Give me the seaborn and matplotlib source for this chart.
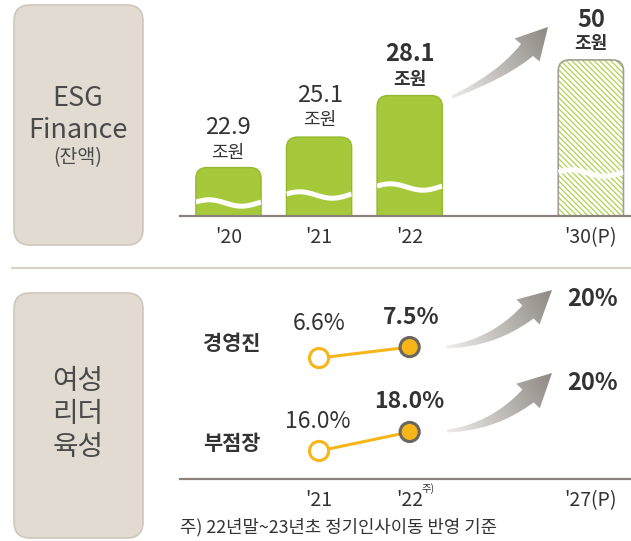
import numpy as np
import pandas as pd
import matplotlib
matplotlib.use("Agg")
import matplotlib.pyplot as plt
import seaborn as sns
from matplotlib.patches import FancyBboxPatch, Polygon, Rectangle
from matplotlib.colors import LinearSegmentedColormap

# ESG Finance 잔액 (조원)
fin_order = ["'20", "'21", "'22", " ", "'30(P)"]
fin_years = ["'20", "'21", "'22"]
fin_values = [22.9, 25.1, 28.1]
fin_target_year = ["'30(P)"]
fin_target = [50]

# 여성 리더 비율 (%)
lead_order = [" ", "'21", "'22", "  ", "'27(P)"]
lead_years = ["'21", "'22"]
exec_values = [6.6, 7.5]      # 경영진
branch_values = [16.0, 18.0]  # 부점장
lead_target_year = "'27(P)"
lead_target = [20, 20]

GREEN = "#a5c93a"
HATCH_GREEN = "#b5d55e"
ORANGE = "#f6b519"
BASE = "#8b8279"
BOX_FILL = "#e1dbd1"
BOX_EDGE = "#d0c7bb"
TXT = "#333333"

sns.set_theme(style="white")
plt.rcParams["font.family"] = ["Noto Sans CJK KR", "DejaVu Sans"]
plt.rcParams["hatch.linewidth"] = 1.0

W, H = 631, 541
fig = plt.figure(figsize=(W / 100, H / 100), dpi=100)


def px_axes(x0, y0, x1, y1):
    ax = fig.add_axes([x0 / W, 1 - y1 / H, (x1 - x0) / W, (y1 - y0) / H])
    ax.patch.set_alpha(0)
    return ax


# canvas in pixel coords for boxes, arrows and texts
canvas = px_axes(0, 0, W, H)
canvas.set_zorder(0)
canvas.axis("off")

XL = (-0.535, 4.443)

# ---- top: ESG Finance bars
ax_top = px_axes(180, 0, W, 216)
ax_top.set_zorder(2)
df_fin = pd.DataFrame({"year": fin_years, "value": fin_values})
sns.barplot(data=df_fin, x="year", y="value", order=fin_order, color=GREEN,
            width=0.72, ax=ax_top)
ax_top.set_ylim(19.4, 35.0)
ax_tw = ax_top.twinx()
ax_tw.patch.set_alpha(0)
df_tgt = pd.DataFrame({"year": fin_target_year, "value": fin_target})
sns.barplot(data=df_tgt, x="year", y="value", order=fin_order, color=GREEN,
            width=0.72, ax=ax_tw)
ax_tw.set_ylim(0, 69.2)
for a in (ax_top, ax_tw):
    a.set_xlim(*XL)
    a.set_yticks([])
    a.set_ylabel("")
    a.set_xlabel("")
    for s in ("top", "left", "right"):
        a.spines[s].set_visible(False)
ax_tw.spines["bottom"].set_visible(False)
ax_tw.tick_params(bottom=False, labelbottom=False)
ax_top.spines["bottom"].set_color(BASE)
ax_top.spines["bottom"].set_linewidth(1.6)
ax_top.set_xticks([0, 1, 2, 4])
ax_top.set_xticklabels([fin_order[i] for i in (0, 1, 2, 4)])
ax_top.tick_params(axis="x", length=0, pad=8, labelsize=14, labelcolor=TXT)

clip_top = Rectangle((0, 0), W, 215.5, transform=canvas.transData)
wave_off = [13, 21, 29, 43]
bars = [p for p in ax_top.patches if p.get_height() > 0] + \
       [p for p in ax_tw.patches if p.get_height() > 0]
for i, p in enumerate(bars):
    bb = p.get_window_extent()
    p.set_visible(False)
    x0, x1, top = bb.x0, bb.x1, H - bb.y1
    hatched = i == 3
    rect = FancyBboxPatch((x0, top), x1 - x0, 216 + 20 - top,
                          boxstyle="round,pad=0,rounding_size=11",
                          facecolor="white" if hatched else GREEN,
                          edgecolor=HATCH_GREEN if hatched else "#94b82e",
                          hatch="\\\\\\\\\\\\" if hatched else None,
                          lw=0 if hatched else 1.0, zorder=2)
    canvas.add_patch(rect)
    rect.set_clip_path(clip_top)
    if hatched:
        outline = FancyBboxPatch((x0, top), x1 - x0, 216 + 20 - top,
                                 boxstyle="round,pad=0,rounding_size=11",
                                 facecolor="none", edgecolor="#a39d92", lw=1.2, zorder=3)
        canvas.add_patch(outline)
        outline.set_clip_path(clip_top)
    t = np.linspace(0, 1, 80)
    xs = x0 + t * (x1 - x0)
    ys = 216 - wave_off[i] - 3.2 * np.sin(2 * np.pi * t + 0.3)
    ln, = canvas.plot(xs, ys, color="white", lw=3.6, zorder=4, solid_capstyle="butt")
    ln.set_clip_path(rect)

# value labels
lab_y = [(128, 153), (95, 120), (54, 79), (20, 43)]
centers = [228, 320, 410, 591]
for i, (v, (y1, y2)) in enumerate(zip(fin_values + fin_target, lab_y)):
    bold = i >= 2
    txt = f"{v:.1f}" if i < 3 else f"{v:d}"
    canvas.text(centers[i], y1, txt, ha="center", va="center", color=TXT,
                fontsize=17, fontweight="bold" if bold else "normal")
    canvas.text(centers[i], y2, "조원", ha="center", va="center", color=TXT,
                fontsize=13, fontweight="bold" if bold else "normal")

# ---- bottom: women leaders
ax_a = px_axes(180, 290, W, 390)
ax_b = px_axes(180, 395, W, 479)
for a in (ax_a, ax_b):
    a.set_zorder(3)
pos = [lead_order.index(y) for y in lead_years]
for a, vals, lims in ((ax_a, exec_values, (3.98, 12.18)),
                      (ax_b, branch_values, (13.05, 21.89))):
    sns.lineplot(x=pos, y=vals, color=ORANGE, lw=2.2, ax=a, zorder=2)
    sns.scatterplot(x=pos, y=vals, s=190, ax=a, zorder=3, linewidth=2.2)
    coll = a.collections[-1]
    coll.set_facecolors(["white", ORANGE])
    coll.set_edgecolors([ORANGE, "#6b6660"])
    a.set_xlim(*XL)
    a.set_ylim(*lims)
    a.set_yticks([])
    for s in ("top", "left", "right"):
        a.spines[s].set_visible(False)
ax_a.spines["bottom"].set_visible(False)
ax_a.set_xticks([])
ax_b.spines["bottom"].set_color(BASE)
ax_b.spines["bottom"].set_linewidth(1.6)
tick_pos = pos + [lead_order.index(lead_target_year)]
ax_b.set_xticks(tick_pos)
ax_b.set_xticklabels([lead_order[i] for i in tick_pos])
ax_b.tick_params(axis="x", length=0, pad=8, labelsize=14, labelcolor=TXT)
canvas.text(421, 489, "주)", ha="left", va="center", fontsize=7.5, color=TXT)

for (x, y, s, b) in [(319, 324, "6.6%", False), (411, 317, "7.5%", True),
                     (318, 422, "16.0%", False), (409, 401, "18.0%", True)]:
    canvas.text(x, y, s, ha="center", va="center", color=TXT, fontsize=16.5,
                fontweight="bold" if b else "normal")
canvas.text(232, 344, "경영진", ha="center", va="center", color=TXT, fontsize=15, fontweight="bold")
canvas.text(232, 444, "부점장", ha="center", va="center", color=TXT, fontsize=15, fontweight="bold")
for y, v in zip((299, 383), lead_target):
    canvas.text(592, y, f"{v}%", ha="center", va="center", color=TXT, fontsize=17, fontweight="bold")

canvas.text(180, 527, "주) 22년말~23년초 정기인사이동 반영 기준", ha="left", va="center",
            color=TXT, fontsize=12.8)

# ---- left boxes and separator
for y0, y1 in ((5, 245), (293, 538)):
    canvas.add_patch(FancyBboxPatch((14, y0), 129, y1 - y0,
                                    boxstyle="round,pad=0,rounding_size=16",
                                    facecolor=BOX_FILL, edgecolor=BOX_EDGE, lw=1.2, zorder=1))
canvas.plot([12, W], [268, 268], color="#d9d2c7", lw=1.6, zorder=1)
canvas.text(78, 98, "ESG", ha="center", va="center", color="#4a4a4a", fontsize=19.5)
canvas.text(78, 130, "Finance", ha="center", va="center", color="#4a4a4a", fontsize=19.5)
canvas.text(78, 158, "(잔액)", ha="center", va="center", color="#4a4a4a", fontsize=14)
for y, s in ((381, "여성"), (414, "리더"), (447, "육성")):
    canvas.text(78, y, s, ha="center", va="center", color="#4a4a4a", fontsize=20)

# ---- gradient arrows
arrow_cmap = LinearSegmentedColormap.from_list("arr", ["#ecebe8", "#8e8882"])


def gradient_arrow(tail, ctrl, end, tip, half_head):
    tail, ctrl, end, tip = map(np.array, (tail, ctrl, end, tip))
    t = np.linspace(0, 1, 40)[:, None]
    pts = (1 - t) ** 2 * tail + 2 * (1 - t) * t * ctrl + t ** 2 * end
    der = 2 * (1 - t) * (ctrl - tail) + 2 * t * (end - ctrl)
    der = der / np.linalg.norm(der, axis=1, keepdims=True)
    nrm = np.column_stack([-der[:, 1], der[:, 0]])
    w = (1.5 + 7.0 * t[:, 0] ** 1.2)[:, None]
    up = pts + nrm * w
    lo = pts - nrm * w
    hd = (tip - end) / np.linalg.norm(tip - end)
    hn = np.array([-hd[1], hd[0]])
    head = [end + hn * half_head, tip, end - hn * half_head]
    poly = np.vstack([up, head, lo[::-1]])
    patch = Polygon(poly, closed=True, facecolor="none", edgecolor="none")
    canvas.add_patch(patch)
    x0, y0 = poly.min(axis=0) - 2
    x1, y1 = poly.max(axis=0) + 2
    gx, gy = np.meshgrid(np.linspace(x0, x1, 120), np.linspace(y0, y1, 120))
    d = tip - tail
    val = ((gx - tail[0]) * d[0] + (gy - tail[1]) * d[1]) / (d @ d)
    im = canvas.imshow(val, extent=(x0, x1, y1, y0), origin="upper", cmap=arrow_cmap,
                       vmin=0, vmax=1, aspect="auto", zorder=2)
    im.set_clip_path(patch)


gradient_arrow((452, 97), (501, 76), (527, 50), (548, 27), 17)
gradient_arrow((447, 347), (493, 343), (528, 312), (552, 290), 17)
gradient_arrow((447, 431), (493, 427), (528, 396), (552, 373), 17)

canvas.set_xlim(0, W)
canvas.set_ylim(H, 0)

fig.savefig("out.png", dpi=100)
